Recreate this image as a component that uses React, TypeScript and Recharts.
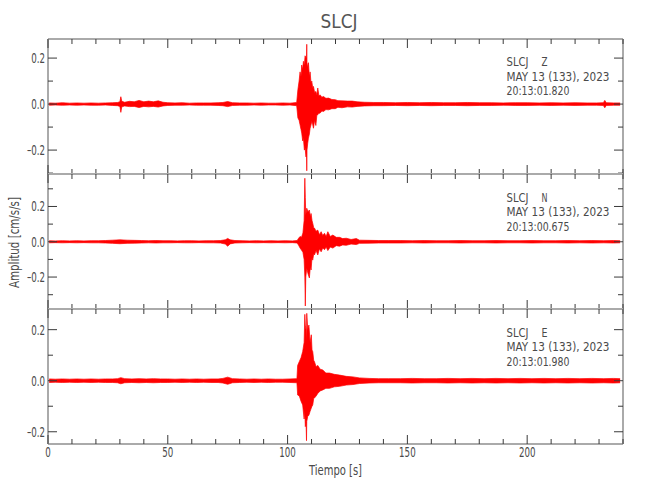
import { AreaChart, Area, XAxis, YAxis } from "recharts";

// envelope of each trace: time (s), upper and lower amplitude (cm/s/s)
const zTime = [0.5, 3, 6, 9, 12, 15, 18, 21, 24, 27, 29, 30, 30.4, 30.8, 32, 34, 36, 38, 40, 42, 44, 46, 48, 50, 53, 56, 59, 62, 65, 68, 71, 73, 75, 77, 80, 83, 86, 89, 92, 95, 98, 101, 103.8,
  104.3, 104.8, 105.2, 105.6, 105.9, 106.3, 106.6, 107, 107.3, 107.7, 107.9, 108, 108.1, 108.4, 108.7, 109.1, 109.4, 109.8, 110.1, 110.5, 110.8, 111.3, 111.8, 112.2, 112.6, 113.1, 113.6, 114.3, 115, 116, 117.1, 118.5, 119.9, 121, 122.7, 125, 127, 129,
  132, 136, 140, 145, 150, 155, 160, 165, 170, 175, 180, 185, 190, 195, 200, 205, 210, 215, 220, 225, 229, 231.8, 232.4, 233, 236, 238.8];
const zHigh = [0.005, 0.004, 0.006, 0.004, 0.005, 0.004, 0.005, 0.004, 0.005, 0.006, 0.007, 0.01, 0.032, 0.012, 0.008, 0.012, 0.01, 0.016, 0.01, 0.013, 0.01, 0.014, 0.008, 0.006, 0.005, 0.006, 0.004, 0.005, 0.005, 0.005, 0.006, 0.007, 0.011, 0.006, 0.005, 0.005, 0.004, 0.005, 0.004, 0.004, 0.005, 0.004, 0.007,
  0.062, 0.1, 0.14, 0.12, 0.17, 0.15, 0.186, 0.17, 0.21, 0.2, 0.2, 0.26, 0.18, 0.16, 0.18, 0.12, 0.14, 0.09, 0.1, 0.07, 0.077, 0.05, 0.055, 0.04, 0.07, 0.035, 0.04, 0.03, 0.033, 0.025, 0.026, 0.02, 0.019, 0.015, 0.014, 0.013, 0.013, 0.01,
  0.008, 0.007, 0.007, 0.006, 0.007, 0.006, 0.007, 0.006, 0.006, 0.007, 0.006, 0.006, 0.005, 0.006, 0.006, 0.005, 0.006, 0.005, 0.006, 0.005, 0.005, 0.006, 0.016, 0.006, 0.005, 0.005];
const zLow = [-0.005, -0.004, -0.005, -0.004, -0.005, -0.004, -0.005, -0.005, -0.004, -0.006, -0.007, -0.01, -0.036, -0.012, -0.008, -0.011, -0.01, -0.015, -0.01, -0.012, -0.01, -0.013, -0.008, -0.006, -0.005, -0.005, -0.004, -0.005, -0.005, -0.005, -0.006, -0.007, -0.011, -0.006, -0.005, -0.005, -0.004, -0.005, -0.004, -0.004, -0.005, -0.004, -0.007,
  -0.06, -0.07, -0.09, -0.11, -0.126, -0.16, -0.148, -0.2, -0.19, -0.23, -0.2, -0.29, -0.2, -0.17, -0.148, -0.13, -0.105, -0.09, -0.075, -0.09, -0.105, -0.07, -0.093, -0.05, -0.046, -0.04, -0.039, -0.03, -0.032, -0.024, -0.025, -0.02, -0.02, -0.014, -0.016, -0.012, -0.013, -0.01,
  -0.008, -0.007, -0.007, -0.006, -0.007, -0.006, -0.007, -0.006, -0.006, -0.007, -0.006, -0.006, -0.005, -0.006, -0.006, -0.005, -0.006, -0.005, -0.006, -0.005, -0.005, -0.006, -0.016, -0.006, -0.005, -0.005];

const nTime = [0.5, 3, 6, 9, 12, 15, 18, 21, 24, 27, 30, 33, 36, 39, 42, 45, 48, 51, 54, 57, 60, 63, 66, 69, 72, 74, 75, 76, 78, 81, 84, 87, 90, 93, 96, 99, 102, 104,
  104.6, 105.2, 105.8, 106.4, 106.9, 107.2, 107.4, 107.6, 108, 108.5, 109.1, 109.5, 109.8, 110.2, 110.5, 110.9, 111.2, 111.9, 112.6, 113.3, 114, 114.7, 115.4, 116.1, 116.8, 117.8, 118.9, 120.3, 121.7, 123, 124.5, 126.5, 128.7, 130,
  134, 138, 142, 147, 152, 157, 162, 167, 172, 177, 182, 187, 192, 197, 202, 207, 212, 217, 222, 227, 232, 236, 238.8];
const nHigh = [0.006, 0.005, 0.006, 0.005, 0.006, 0.005, 0.006, 0.006, 0.007, 0.009, 0.011, 0.009, 0.008, 0.007, 0.006, 0.007, 0.006, 0.006, 0.005, 0.006, 0.006, 0.005, 0.006, 0.006, 0.007, 0.011, 0.019, 0.011, 0.007, 0.006, 0.005, 0.006, 0.005, 0.006, 0.005, 0.006, 0.005, 0.007,
  0.02, 0.03, 0.025, 0.05, 0.12, 0.36, 0.25, 0.15, 0.19, 0.17, 0.18, 0.14, 0.16, 0.12, 0.105, 0.08, 0.078, 0.06, 0.066, 0.04, 0.057, 0.035, 0.048, 0.03, 0.057, 0.03, 0.038, 0.025, 0.025, 0.018, 0.02, 0.013, 0.018, 0.009,
  0.008, 0.007, 0.007, 0.007, 0.006, 0.007, 0.006, 0.006, 0.007, 0.006, 0.006, 0.007, 0.006, 0.006, 0.007, 0.006, 0.006, 0.007, 0.006, 0.007, 0.006, 0.007, 0.006];
const nLow = [-0.006, -0.005, -0.006, -0.005, -0.006, -0.005, -0.006, -0.006, -0.007, -0.009, -0.011, -0.009, -0.008, -0.007, -0.006, -0.007, -0.006, -0.006, -0.005, -0.006, -0.006, -0.005, -0.006, -0.006, -0.007, -0.013, -0.025, -0.012, -0.007, -0.006, -0.005, -0.006, -0.005, -0.006, -0.005, -0.006, -0.005, -0.007,
  -0.02, -0.035, -0.047, -0.06, -0.1, -0.2, -0.364, -0.2, -0.15, -0.18, -0.205, -0.14, -0.16, -0.09, -0.104, -0.07, -0.075, -0.05, -0.075, -0.04, -0.057, -0.035, -0.045, -0.03, -0.05, -0.03, -0.036, -0.022, -0.025, -0.018, -0.02, -0.013, -0.016, -0.009,
  -0.008, -0.007, -0.007, -0.007, -0.006, -0.007, -0.006, -0.006, -0.007, -0.006, -0.006, -0.007, -0.006, -0.006, -0.007, -0.006, -0.006, -0.007, -0.006, -0.007, -0.006, -0.007, -0.006];

const eTime = [0.5, 3, 6, 9, 12, 15, 18, 21, 24, 27, 29, 30.4, 32, 35, 38, 41, 44, 47, 50, 53, 56, 59, 62, 65, 68, 71, 73, 75, 77, 80, 83, 86, 89, 92, 95, 98, 101, 103.9,
  104.2, 104.9, 105.6, 106.3, 106.9, 107.2, 107.4, 107.7, 107.9, 108, 108.4, 108.9, 109.4, 109.9, 110.2, 110.5, 110.9, 111.2, 111.9, 112.6, 113.6, 114.7, 116, 117.5, 119.5, 121.7, 124.5, 127.3, 130,
  134, 138, 142, 147, 152, 157, 162, 167, 172, 177, 182, 187, 192, 197, 202, 207, 212, 217, 222, 227, 232, 236, 238.8];
const eHigh = [0.007, 0.006, 0.007, 0.006, 0.007, 0.006, 0.007, 0.006, 0.007, 0.007, 0.008, 0.012, 0.008, 0.007, 0.008, 0.007, 0.008, 0.007, 0.007, 0.006, 0.007, 0.006, 0.007, 0.006, 0.007, 0.007, 0.009, 0.014, 0.008, 0.007, 0.006, 0.007, 0.006, 0.007, 0.006, 0.006, 0.007, 0.008,
  0.06, 0.075, 0.09, 0.114, 0.15, 0.26, 0.218, 0.2, 0.15, 0.264, 0.2, 0.218, 0.15, 0.18, 0.12, 0.114, 0.08, 0.075, 0.055, 0.06, 0.045, 0.042, 0.03, 0.03, 0.025, 0.022, 0.017, 0.015, 0.011,
  0.009, 0.008, 0.008, 0.008, 0.009, 0.008, 0.008, 0.009, 0.008, 0.009, 0.008, 0.009, 0.008, 0.009, 0.008, 0.009, 0.008, 0.009, 0.008, 0.009, 0.008, 0.009, 0.008];
const eLow = [-0.007, -0.006, -0.007, -0.006, -0.007, -0.006, -0.007, -0.006, -0.007, -0.007, -0.008, -0.012, -0.008, -0.007, -0.008, -0.007, -0.008, -0.007, -0.007, -0.006, -0.007, -0.006, -0.007, -0.006, -0.007, -0.007, -0.009, -0.014, -0.008, -0.007, -0.006, -0.007, -0.006, -0.007, -0.006, -0.006, -0.007, -0.008,
  -0.056, -0.06, -0.08, -0.095, -0.15, -0.12, -0.18, -0.16, -0.235, -0.16, -0.14, -0.135, -0.12, -0.107, -0.1, -0.095, -0.07, -0.068, -0.06, -0.05, -0.04, -0.036, -0.03, -0.03, -0.024, -0.022, -0.017, -0.015, -0.011,
  -0.009, -0.008, -0.008, -0.008, -0.009, -0.008, -0.008, -0.009, -0.008, -0.009, -0.008, -0.009, -0.008, -0.009, -0.008, -0.009, -0.008, -0.009, -0.008, -0.009, -0.008, -0.009, -0.008];

const timeTicks = [0, 10, 20, 30, 40, 50, 60, 70, 80, 90, 100, 110, 120, 130, 140, 150, 160, 170, 180, 190, 200, 210, 220, 230, 240];
const zTicks = [-0.3, -0.2, -0.1, 0, 0.1, 0.2];
const nTicks = [-0.3, -0.2, -0.1, 0, 0.1, 0.2, 0.3];
const eTicks = [-0.2, -0.1, 0, 0.1, 0.2];

const componentNames = ["Z", "N", "E"];
const startTimes = ["20:13:01.820", "20:13:00.675", "20:13:01.980"];
const station = "SLCJ";
const dateLabel = "MAY 13 (133), 2023";

const FONT = "'DejaVu Sans', sans-serif";
const TEXT = "#4a4a4a";
const FRAME = "#aaaaaa";
const TICK = "#3a3a3a";
const RED = "#ff0000";

const toRows = (time: number[], high: number[], low: number[]) =>
  time.map((t, i) => ({ t, amp: [low[i], high[i]] }));

const panels = [
  { top: 39, rows: toRows(zTime, zHigh, zLow), domain: [-0.304, 0.283], ticks: zTicks, textY: 66 },
  { top: 174, rows: toRows(nTime, nHigh, nLow), domain: [-0.381, 0.384], ticks: nTicks, textY: 201.5 },
  { top: 309, rows: toRows(eTime, eHigh, eLow), domain: [-0.248, 0.281], ticks: eTicks, textY: 336.5 },
];

const isMajorY = (v: number) => Math.abs(v / 0.2 - Math.round(v / 0.2)) < 1e-6;
const yLabel = (v: number) => (Math.abs(v) < 1e-9 ? "0.0" : v.toFixed(1).replace("-", "\u2013"));

// narrow, thin lettering like the plotting package's stroke font
function NText({ x, y, size = 14, anchor = "start", sx = 0.62, fill = TEXT, children }: any) {
  return (
    <text transform={`translate(${x} ${y}) scale(${sx} 1)`} textAnchor={anchor} fontSize={size}
      fontFamily={FONT} fill={fill}>
      {children}
    </text>
  );
}

function LeftTick(props: any) {
  const { x, y, payload } = props;
  const v = payload.value;
  const major = isMajorY(v);
  return (
    <g>
      <line x1={x} y1={y} x2={x + (major ? 9 : 5)} y2={y} stroke={TICK} strokeWidth={1} />
      {major && <NText x={x - 3} y={y + 5} anchor="end">{yLabel(v)}</NText>}
    </g>
  );
}

function RightTick(props: any) {
  const { x, y, payload } = props;
  const major = isMajorY(payload.value);
  return <line x1={x} y1={y} x2={x - (major ? 9 : 5)} y2={y} stroke={TICK} strokeWidth={1} />;
}

function TopTick(props: any) {
  const { x, y, payload } = props;
  const major = payload.value % 50 === 0;
  return <line x1={x} y1={y} x2={x} y2={y + (major ? 9 : 5)} stroke={TICK} strokeWidth={1} />;
}

function BottomTick(props: any) {
  const { x, y, payload, showLabel } = props;
  const major = payload.value % 50 === 0;
  return (
    <g>
      <line x1={x} y1={y} x2={x} y2={y - (major ? 9 : 5)} stroke={TICK} strokeWidth={1} />
      {showLabel && major && payload.value < 240 && (
        <NText x={x} y={y + 13} anchor="middle">{payload.value}</NText>
      )}
    </g>
  );
}

function Panel({ panel, last }: { panel: (typeof panels)[number]; last: boolean }) {
  const bottomH = last ? 30 : 10;
  const h = 10 + 135 + bottomH;
  const axisLine = { stroke: FRAME, strokeWidth: 2 };
  return (
    <div style={{ position: "absolute", left: 0, top: panel.top - 10, width: 650, height: h }}>
      <AreaChart width={650} height={h} data={panel.rows} margin={{ top: 0, bottom: 0, left: 8, right: 17 }}>
        <XAxis dataKey="t" type="number" domain={[0, 240]} ticks={timeTicks} interval={0} height={bottomH}
          stroke={FRAME} axisLine={axisLine} tickLine={false} tickSize={0} tickMargin={0} allowDataOverflow
          tick={(p: any) => <BottomTick {...p} showLabel={last} />} />
        <XAxis xAxisId="top" orientation="top" dataKey="t" type="number" domain={[0, 240]} ticks={timeTicks}
          interval={0} height={10} stroke={FRAME} axisLine={axisLine} tickLine={false} tickSize={0} tickMargin={0}
          allowDataOverflow tick={(p: any) => <TopTick {...p} />} />
        <YAxis type="number" domain={panel.domain} ticks={panel.ticks} interval={0} width={40}
          stroke={FRAME} axisLine={axisLine} tickLine={false} tickSize={0} tickMargin={0} allowDataOverflow
          tick={(p: any) => <LeftTick {...p} />} />
        <YAxis yAxisId="right" orientation="right" type="number" domain={panel.domain} ticks={panel.ticks}
          interval={0} width={10} stroke={FRAME} axisLine={axisLine} tickLine={false} tickSize={0} tickMargin={0}
          allowDataOverflow tick={(p: any) => <RightTick {...p} />} />
        <Area type="linear" dataKey="amp" stroke={RED} strokeWidth={0.7} fill={RED} fillOpacity={1}
          dot={false} activeDot={false} isAnimationActive={false} />
      </AreaChart>
    </div>
  );
}

export default function App() {
  return (
    <div style={{ position: "absolute", left: 0, top: 0, width: 650, height: 500, background: "#fff" }}>
      {panels.map((p, i) => (
        <Panel key={i} panel={p} last={i === panels.length - 1} />
      ))}
      <svg width={650} height={500} style={{ position: "absolute", left: 0, top: 0, pointerEvents: "none" }}>
        <text x={339} y={28} textAnchor="middle" fontSize={20} fontFamily={FONT} fill="#555"
          textLength={37} lengthAdjust="spacingAndGlyphs">
          {station}
        </text>
        {panels.map((p, i) => (
          <g key={i} fontSize={13} fontFamily={FONT} fill={TEXT}>
            <text x={506.5} y={p.textY} textLength={22} lengthAdjust="spacingAndGlyphs">{station}</text>
            <text x={541.5} y={p.textY} textLength={6} lengthAdjust="spacingAndGlyphs">{componentNames[i]}</text>
            <text x={506.5} y={p.textY + 14.5} textLength={103} lengthAdjust="spacingAndGlyphs">{dateLabel}</text>
            <text x={506.5} y={p.textY + 29} textLength={63} lengthAdjust="spacingAndGlyphs">{startTimes[i]}</text>
          </g>
        ))}
        <text x={0} y={0} transform="translate(18.5,242.5) rotate(-90)" textAnchor="middle" fontSize={14}
          fontFamily={FONT} fill={TEXT} textLength={91} lengthAdjust="spacingAndGlyphs">
          Amplitud [cm/s/s]
        </text>
        <text x={335.5} y={475} textAnchor="middle" fontSize={14} fontFamily={FONT} fill={TEXT}
          textLength={53} lengthAdjust="spacingAndGlyphs">
          Tiempo [s]
        </text>
      </svg>
    </div>
  );
}
